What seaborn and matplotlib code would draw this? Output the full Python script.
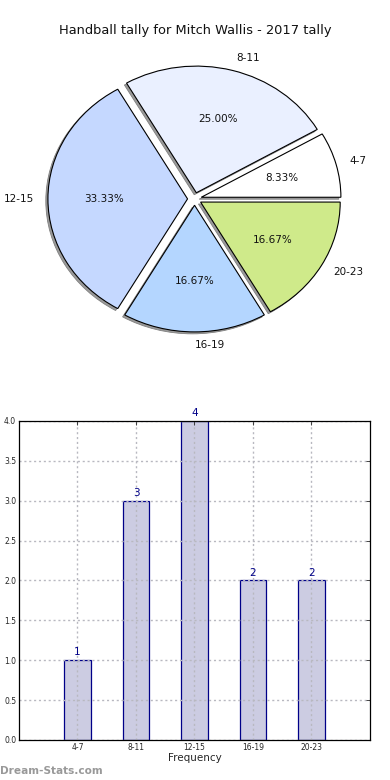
import matplotlib
matplotlib.use("Agg")
import matplotlib.pyplot as plt
import seaborn as sns
import pandas as pd

categories = ["4-7", "8-11", "12-15", "16-19", "20-23"]
counts = [1, 3, 4, 2, 2]
pie_colors = ["#ffffff", "#eaf0ff", "#c5d8ff", "#b4d6ff", "#cfea8a"]
title = "Handball tally for Mitch Wallis - 2017 tally"
yticks = [0.0, 0.5, 1.0, 1.5, 2.0, 2.5, 3.0, 3.5, 4.0]

sns.set_style("white")
plt.rcParams['font.family'] = ['DejaVu Sans']

fig = plt.figure(figsize=(3.9, 7.8), dpi=100)

# Pie
ax1 = fig.add_axes([0.0513, 0.542, 0.895, 0.406])
wedges, texts, autotexts = ax1.pie(
    counts, labels=categories, colors=pie_colors, explode=[0.05] * len(counts),
    autopct="%.2f%%", startangle=0, counterclock=True,
    shadow={'ox': -0.011, 'oy': -0.011, 'facecolor': '#9a9a9a',
            'edgecolor': '#808080', 'alpha': 1.0, 'linewidth': 0.6},
    wedgeprops={'edgecolor': 'black', 'linewidth': 0.8},
    textprops={'fontsize': 7.5, 'color': '#111111'})
ax1.set_aspect('auto')
ax1.set_xlim(-1.25, 1.25)
ax1.set_ylim(-1.25, 1.25)
fig.text(0.5, 0.961, title, ha='center', va='center', fontsize=9.4, color='#111111')

# Bars
ax2 = fig.add_axes([0.0487, 0.0513, 0.9, 0.409])
df = pd.DataFrame({'cat': categories, 'count': counts})
sns.barplot(data=df, x='cat', y='count', ax=ax2, color='#ccccE2', saturation=1,
            edgecolor='#000088', linewidth=0.9, width=0.45)
ax2.set_xlim(-1, 5)
ax2.set_ylim(0, 4)
ax2.set_yticks(yticks)
ax2.set_yticklabels([f"{v:.1f}" for v in yticks])
ax2.set_ylabel("")
ax2.set_xlabel("Frequency", fontsize=7.5, labelpad=1)
ax2.tick_params(axis='both', labelsize=5.5, direction='in', length=3, pad=2,
                top=True, right=True, width=0.6)
ax2.grid(True, linestyle=(0, (1.5, 2.0)), color='#b8b8c0', linewidth=1.0)
ax2.set_axisbelow(False)
for s in ax2.spines.values():
    s.set_color('black')
    s.set_linewidth(0.9)
    s.set_zorder(10)
for i, v in enumerate(counts):
    ax2.annotate(str(v), (i, v), xytext=(0, 2), textcoords='offset points',
                 ha='center', va='bottom', fontsize=7.5, color='#000088',
                 annotation_clip=False)

fig.text(0.0, 0.012, "Dream-Stats.com", ha='left', va='center', fontsize=7.6,
         fontweight='bold', color='#999999')

fig.savefig("out.png", dpi=100)
